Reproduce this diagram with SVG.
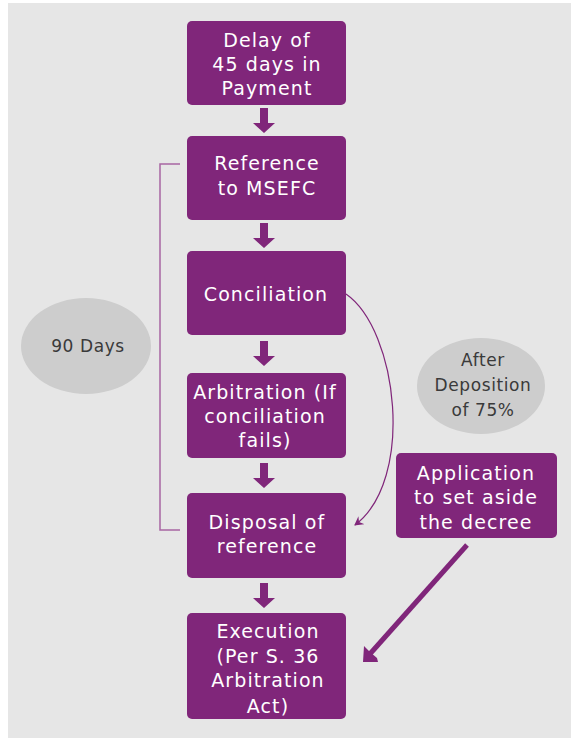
<svg xmlns="http://www.w3.org/2000/svg" width="571" height="742" viewBox="0 0 571 742">
<style>
.box{fill:#80267a;}
.t{font-family:"DejaVu Sans",sans-serif;font-size:19px;letter-spacing:1.1px;fill:#ffffff;text-anchor:middle;}
.et{font-family:"DejaVu Sans",sans-serif;font-size:17px;letter-spacing:0.6px;fill:#3a3a3a;text-anchor:middle;}
.ell{fill:#cdcdcd;}
.thick{fill:#80267a;}
</style>
<defs>
<marker id="thin" markerWidth="10" markerHeight="10" refX="8" refY="5" orient="auto" markerUnits="userSpaceOnUse">
<path d="M0,0 L9,5 L0,10 L3,5 Z" fill="#80267a"/>
</marker>
</defs>
<rect x="8" y="3" width="563" height="735" fill="#e6e6e6"/>

<g id="connectors">
<path class="thick" d="M260,108 h8 v15 h7 l-11,10 l-11,-10 h7 z"/>
<path class="thick" d="M260,223 h8 v15 h7 l-11,10 l-11,-10 h7 z"/>
<path class="thick" d="M260,341 h8 v15 h7 l-11,10 l-11,-10 h7 z"/>
<path class="thick" d="M260,463 h8 v15 h7 l-11,10 l-11,-10 h7 z"/>
<path class="thick" d="M260,583 h8 v15 h7 l-11,10 l-11,-10 h7 z"/>
<path d="M180,164 H160 V530 H180" fill="none" stroke="#a866a3" stroke-width="1.5"/>
<path d="M346,294 C398,330 415,480 355,525" fill="none" stroke="#80267a" stroke-width="1.2" marker-end="url(#thin)"/>
<line x1="467" y1="545" x2="369" y2="655" stroke="#80267a" stroke-width="5"/>
<path class="thick" d="M363,662 L364,646 L370,652 L377,658 L378,662 Z"/>
</g>

<g id="n1"><rect class="box" x="187" y="21" width="159" height="84" rx="5"/>
<text class="t" x="267" y="47">Delay of</text><text class="t" x="267" y="71">45 days in</text><text class="t" x="267" y="95">Payment</text></g>
<g id="n2"><rect class="box" x="187" y="136" width="159" height="84" rx="5"/>
<text class="t" x="267" y="170">Reference</text><text class="t" x="267" y="195">to MSEFC</text></g>
<g id="n3"><rect class="box" x="187" y="251" width="159" height="84" rx="5"/>
<text class="t" x="266" y="301">Conciliation</text></g>
<g id="n4"><rect class="box" x="187" y="373" width="159" height="85" rx="5"/>
<text class="t" x="265" y="399">Arbitration (If</text><text class="t" x="265" y="423">conciliation</text><text class="t" x="265" y="447">fails)</text></g>
<g id="n5"><rect class="box" x="187" y="493" width="159" height="85" rx="5"/>
<text class="t" x="267" y="529">Disposal of</text><text class="t" x="267" y="553">reference</text></g>
<g id="n6"><rect class="box" x="187" y="613" width="159" height="106" rx="5"/>
<text class="t" x="268" y="638">Execution</text><text class="t" x="268" y="663">(Per S. 36</text><text class="t" x="268" y="687">Arbitration</text><text class="t" x="268" y="713">Act)</text></g>
<g id="n7"><rect class="box" x="396" y="453" width="161" height="85" rx="5"/>
<text class="t" x="476" y="480">Application</text><text class="t" x="476" y="504">to set aside</text><text class="t" x="476" y="529">the decree</text></g>
<g id="e1"><ellipse class="ell" cx="86" cy="346" rx="65" ry="48"/>
<text class="et" x="88" y="352">90 Days</text></g>
<g id="e2"><ellipse class="ell" cx="481" cy="386" rx="64" ry="48"/>
<text class="et" x="483" y="366">After</text><text class="et" x="483" y="391">Deposition</text><text class="et" x="483" y="416">of 75%</text></g>
</svg>
